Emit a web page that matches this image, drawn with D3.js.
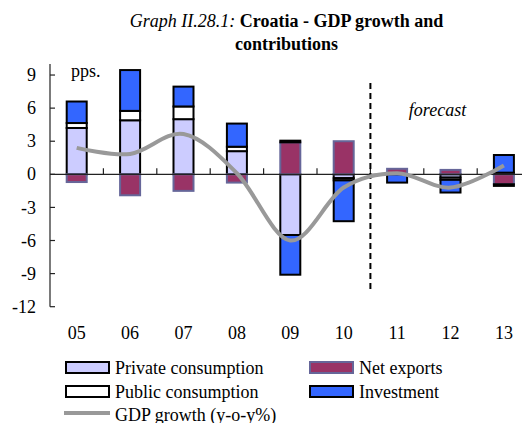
<!DOCTYPE html>
<html>
<head>
<meta charset="utf-8">
<script src="https://cdn.jsdelivr.net/npm/d3@7"></script>
<style>
  html, body { margin: 0; padding: 0; background: #fff; }
  svg { display: block; font-family: "Liberation Serif", "Times New Roman", serif; }
</style>
</head>
<body>
<svg id="chart" width="522" height="423"></svg>
<script>
// ---- data ----
const years = ["05", "06", "07", "08", "09", "10", "11", "12", "13"];
const privateConsumption = [4.2, 4.9, 5.0, 2.1, -5.5, -0.35, 0, -0.3, 0.15];
const netExports = [-0.7, -1.9, -1.5, -0.75, 2.9, 3.0, 0.5, 0.4, -0.9];
const publicConsumption = [0.45, 0.85, 1.15, 0.4, 0.15, -0.2, 0, -0.2, -0.15];
const investment = [1.95, 3.7, 1.8, 2.1, -3.6, -3.7, -0.75, -1.15, 1.6];
const gdpGrowth = [2.4, 1.85, 3.65, 0.1, -6.0, -1.2, 0.1, -1.2, 0.8];
const yTicks = [-12, -9, -6, -3, 0, 3, 6, 9];
const forecastStart = "11";

const seriesKeys = ["private", "net", "public", "invest"];
const seriesStyle = {
  private: { fill: "#CCCCFF", stroke: "#000000", label: "Private consumption" },
  net:     { fill: "#993366", stroke: "#666699", label: "Net exports" },
  public:  { fill: "#FFFFFF", stroke: "#000000", label: "Public consumption" },
  invest:  { fill: "#3366FF", stroke: "#000000", label: "Investment" }
};

const table = years.map((y, i) => ({
  year: y,
  private: privateConsumption[i],
  net: netExports[i],
  public: publicConsumption[i],
  invest: investment[i]
}));

const FS = 18;
const svg = d3.select("#chart");

const x = d3.scaleBand().domain(years).range([50, 530.6]).paddingInner(0).paddingOuter(0);
const y = d3.scaleLinear().domain([-12, 10]).range([306.7, 64]);

// Title
const title = svg.append("text").attr("text-anchor", "middle").attr("font-size", FS);
title.append("tspan").attr("x", 286.5).attr("y", 27)
  .attr("font-style", "italic").text("Graph II.28.1: ");
title.append("tspan").attr("font-weight", "bold").text("Croatia - GDP growth and");
svg.append("text").attr("x", 286.5).attr("y", 50).attr("text-anchor", "middle")
  .attr("font-size", FS).attr("font-weight", "bold").text("contributions");

// Stacked bars
const stack = d3.stack().keys(seriesKeys).offset(d3.stackOffsetDiverging);
const stacked = stack(table);
const barW = 20;

svg.append("g").selectAll("g").data(stacked).join("g")
  .attr("fill", d => seriesStyle[d.key].fill)
  .attr("stroke", d => seriesStyle[d.key].stroke)
  .attr("stroke-width", 2)
  .selectAll("rect")
  .data(d => d.filter(s => Math.abs(s[1] - s[0]) > 1e-9))
  .join("rect")
  .attr("x", d => x(d.data.year) + x.bandwidth() / 2 - barW / 2)
  .attr("width", barW)
  .attr("y", d => y(Math.max(d[0], d[1])))
  .attr("height", d => Math.abs(y(d[0]) - y(d[1])));

// Y axis
const yAxis = svg.append("g");
yAxis.append("line").attr("x1", 50).attr("x2", 50).attr("y1", y(10)).attr("y2", y(-12))
  .attr("stroke", "#222").attr("stroke-width", 1.2);
yAxis.selectAll("line.tick").data(yTicks).join("line").attr("class", "tick")
  .attr("x1", 50).attr("x2", 55).attr("y1", d => y(d)).attr("y2", d => y(d))
  .attr("stroke", "#222").attr("stroke-width", 1.2);
yAxis.selectAll("text").data(yTicks).join("text")
  .attr("x", 36).attr("y", d => y(d)).attr("dy", "0.34em")
  .attr("text-anchor", "end").attr("font-size", FS).text(d => d);

// X axis at zero
const xAxis = svg.append("g");
xAxis.append("line").attr("x1", 50).attr("x2", 530.6).attr("y1", y(0)).attr("y2", y(0))
  .attr("stroke", "#222").attr("stroke-width", 1.2);
xAxis.selectAll("line.tick").data(years.slice(1)).join("line").attr("class", "tick")
  .attr("x1", d => x(d)).attr("x2", d => x(d))
  .attr("y1", y(0)).attr("y2", y(0) - 6)
  .attr("stroke", "#222").attr("stroke-width", 1.2);
xAxis.selectAll("text").data(years).join("text")
  .attr("x", d => x(d) + x.bandwidth() / 2).attr("y", 339)
  .attr("text-anchor", "middle").attr("font-size", FS).text(d => d);

// Forecast divider
svg.append("line")
  .attr("x1", x(forecastStart)).attr("x2", x(forecastStart))
  .attr("y1", 83).attr("y2", 289)
  .attr("stroke", "#000").attr("stroke-width", 2).attr("stroke-dasharray", "6,4");

// GDP growth line
const line = d3.line()
  .x((d, i) => x(years[i]) + x.bandwidth() / 2)
  .y(d => y(d))
  .curve(d3.curveCatmullRom.alpha(0));
svg.append("path").datum(gdpGrowth).attr("d", line)
  .attr("fill", "none").attr("stroke", "#999999").attr("stroke-width", 4)
  .attr("stroke-linecap", "butt");

// Annotations
svg.append("text").attr("x", 71).attr("y", 77).attr("font-size", FS).text("pps.");
svg.append("text").attr("x", 437.5).attr("y", 116).attr("text-anchor", "middle")
  .attr("font-size", FS).attr("font-style", "italic").text("forecast");

// Legend
const legendItems = [
  { key: "private", x: 65, y: 361 },
  { key: "net", x: 309, y: 361 },
  { key: "public", x: 65, y: 385 },
  { key: "invest", x: 309, y: 385 }
];
const lg = svg.append("g");
legendItems.forEach(it => {
  const st = seriesStyle[it.key];
  lg.append("rect").attr("x", it.x + 1).attr("y", it.y + 1).attr("width", 43).attr("height", 11)
    .attr("fill", st.fill).attr("stroke", st.stroke).attr("stroke-width", 2);
  lg.append("text").attr("x", it.x + 50).attr("y", it.y + 12.5)
    .attr("font-size", FS).text(st.label);
});
lg.append("line").attr("x1", 64).attr("x2", 110).attr("y1", 413).attr("y2", 413)
  .attr("stroke", "#999999").attr("stroke-width", 4);
lg.append("text").attr("x", 115).attr("y", 420.5).attr("font-size", FS).text("GDP growth (y-o-y%)");
</script>
</body>
</html>
